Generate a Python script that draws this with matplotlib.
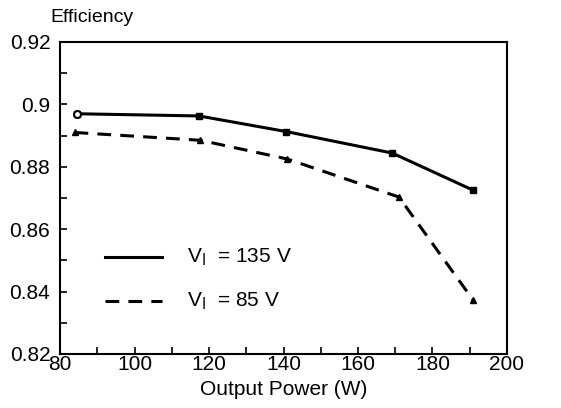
import matplotlib
matplotlib.use("Agg")
import matplotlib.pyplot as plt
from matplotlib.ticker import MultipleLocator

plt.rcParams['font.family'] = ['Liberation Sans', 'DejaVu Sans']

power_135 = [84.6, 117.3, 140.7, 169.2, 190.9]
eff_135 = [0.897, 0.8963, 0.8913, 0.8844, 0.8725]
power_85 = [83.9, 117.7, 141.0, 171.0, 190.9]
eff_85 = [0.891, 0.8885, 0.8825, 0.8703, 0.8373]
xticks = [80, 100, 120, 140, 160, 180, 200]
yticks = [0.82, 0.84, 0.86, 0.88, 0.9, 0.92]
yticklabels = ['0.82', '0.84', '0.86', '0.88', '0.9', '0.92']

fig = plt.figure(figsize=(5.61, 4.08), dpi=100)
ax = fig.add_axes([60/561, 1-354/408, 447/561, 312/408])

ax.plot(power_135, eff_135, color='black', lw=2.2, marker='s', ms=4)
ax.plot(power_135[:1], eff_135[:1], ls='none', marker='o', ms=5, mfc='white', mec='black', mew=1.5)
ax.plot(power_85, eff_85, color='black', lw=2.2, ls=(0, (4.5, 3)), marker='^', ms=4)

ax.set_xlim(80, 200)
ax.set_ylim(0.82, 0.92)
ax.set_xticks(xticks)
ax.set_yticks(yticks)
ax.set_yticklabels(yticklabels)
ax.xaxis.set_minor_locator(MultipleLocator(10))
ax.yaxis.set_minor_locator(MultipleLocator(0.01))
ax.tick_params(which='both', direction='in', top=False, right=False, labelsize=15, width=1.2, length=5)
ax.tick_params(axis='x', pad=1)
ax.tick_params(axis='y', pad=7)
for s in ax.spines.values():
    s.set_linewidth(1.5)

ax.set_xlabel('Output Power (W)', fontsize=15, labelpad=4)
fig.text(50/561, 1-18/408, 'Efficiency', fontsize=14, va='center', ha='left')

# legend
ax.plot([92.2, 107.5], [0.8511, 0.8511], color='black', lw=2.2)
ax.plot([92.2, 107.5], [0.8370, 0.8370], color='black', lw=2.2, ls=(0, (4.5, 3)))
ax.text(114.2, 0.8511, r'V$_{\rm l}$  = 135 V', fontsize=15, va='center')
ax.text(114.2, 0.8370, r'V$_{\rm l}$  = 85 V', fontsize=15, va='center')

fig.savefig('out.png', dpi=100)
